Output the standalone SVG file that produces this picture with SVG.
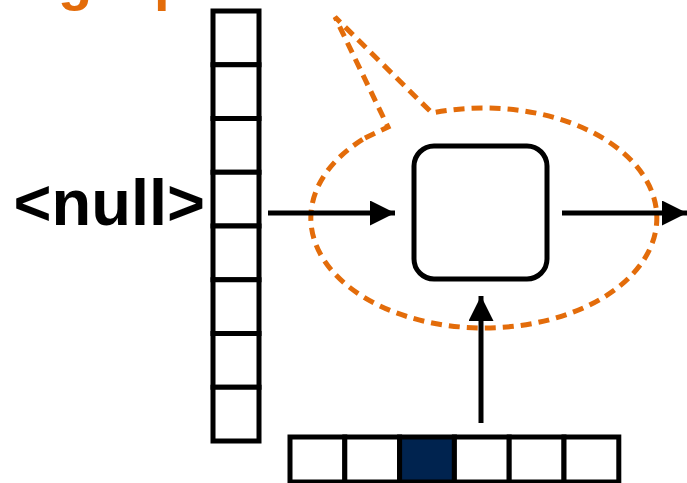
<svg xmlns="http://www.w3.org/2000/svg" width="687" height="483" viewBox="0 0 687 483">
  <style>
    .cell { fill: #ffffff; stroke: #000000; stroke-width: 5; }
    .cell-on { fill: #00234F; stroke: #000000; stroke-width: 5; }
    .edge { stroke: #000000; stroke-width: 5; fill: none; }
    .bubble { fill: none; stroke: #E36C0A; stroke-width: 5; stroke-dasharray: 11 7; }
    .label { font-family: "Liberation Sans", Arial, sans-serif; font-weight: bold; }
  </style>
  <defs>
    <marker id="arrow" viewBox="0 0 10 10" refX="10" refY="5" markerWidth="5" markerHeight="5" markerUnits="strokeWidth" orient="auto">
      <path d="M0,0 L10,5 L0,10 Z" fill="#000000"/>
    </marker>
  </defs>
  <rect width="687" height="483" fill="#ffffff"/>

  <!-- title text running off the top edge -->
  <g id="title" class="label" fill="#E36C0A" font-size="56">
    <text x="58" y="-1">g</text>
    <text x="154" y="-1">p</text>
  </g>

  <!-- label for the input column -->
  <g id="null-label">
    <text class="label" x="205" y="225" font-size="65" text-anchor="end" fill="#000000">&lt;null&gt;</text>
  </g>

  <!-- vertical vector of 8 cells -->
  <g id="column-vector">
    <rect class="cell" x="213" y="11" width="46" height="53.75"/>
    <rect class="cell" x="213" y="64.75" width="46" height="53.75"/>
    <rect class="cell" x="213" y="118.5" width="46" height="53.75"/>
    <rect class="cell" x="213" y="172.25" width="46" height="53.75"/>
    <rect class="cell" x="213" y="226" width="46" height="53.75"/>
    <rect class="cell" x="213" y="279.75" width="46" height="53.75"/>
    <rect class="cell" x="213" y="333.5" width="46" height="53.75"/>
    <rect class="cell" x="213" y="387.25" width="46" height="53.75"/>
  </g>

  <!-- horizontal one-hot vector of 6 cells -->
  <g id="row-vector">
    <rect class="cell" x="290" y="437" width="54.8" height="45"/>
    <rect class="cell" x="344.8" y="437" width="54.8" height="45"/>
    <rect class="cell-on" x="399.6" y="437" width="54.8" height="45"/>
    <rect class="cell" x="454.4" y="437" width="54.8" height="45"/>
    <rect class="cell" x="509.2" y="437" width="54.8" height="45"/>
    <rect class="cell" x="564" y="437" width="54.8" height="45"/>
  </g>

  <!-- processing unit -->
  <g id="unit">
    <rect class="edge" x="414" y="146" width="133" height="133" rx="20" ry="20" fill="#ffffff"/>
  </g>

  <!-- dashed callout bubble around the unit -->
  <g id="callout">
    <path class="bubble" d="M365,138 L388,127 L335,17 L432,113 A173,110 0 1 1 365,138 Z"/>
  </g>

  <g id="connectors">
    <line class="edge" x1="268" y1="213" x2="395" y2="213" marker-end="url(#arrow)"/>
    <line class="edge" x1="562" y1="213" x2="687" y2="213" marker-end="url(#arrow)"/>
    <line class="edge" x1="481" y1="423" x2="481" y2="296" marker-end="url(#arrow)"/>
  </g>
</svg>
